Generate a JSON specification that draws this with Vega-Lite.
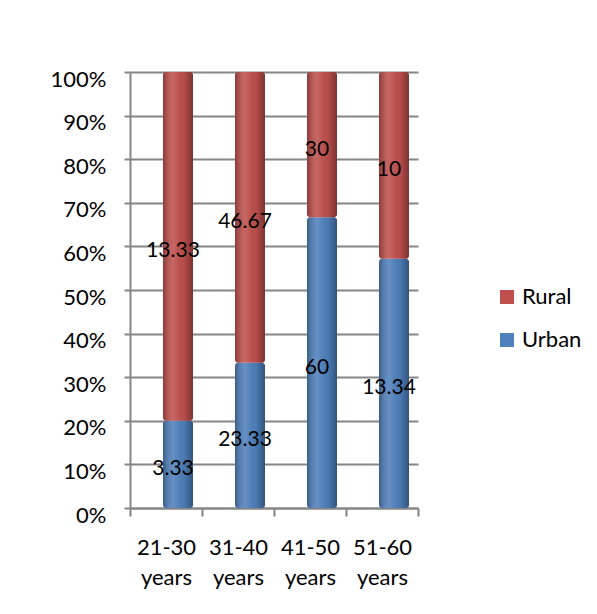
{
  "$schema": "https://vega.github.io/schema/vega-lite/v6.json",
  "width": 310,
  "height": 436,
  "autosize": {"type": "none"},
  "padding": {"left": 130, "top": 72, "right": 157, "bottom": 106},
  "background": "white",
  "config": {
    "view": {"stroke": null},
    "font": "Lato",
    "text": {"font": "Lato"}
  },
  "data": {
    "values": [
      {"age": "21-30 years", "area": "Urban", "value": 3.33},
      {"age": "21-30 years", "area": "Rural", "value": 13.33},
      {"age": "31-40 years", "area": "Urban", "value": 23.33},
      {"age": "31-40 years", "area": "Rural", "value": 46.67},
      {"age": "41-50 years", "area": "Urban", "value": 60},
      {"age": "41-50 years", "area": "Rural", "value": 30},
      {"age": "51-60 years", "area": "Urban", "value": 13.34},
      {"age": "51-60 years", "area": "Rural", "value": 10}
    ]
  },
  "transform": [
    {
      "stack": "value",
      "groupby": ["age"],
      "sort": [{"field": "area", "order": "descending"}],
      "offset": "normalize",
      "as": ["y0", "y1"]
    },
    {"calculate": "(datum.y0 + datum.y1) / 2", "as": "ymid"}
  ],
  "encoding": {
    "x": {
      "field": "age",
      "type": "nominal",
      "title": null,
      "scale": {"range": [0, 288], "paddingInner": 0, "paddingOuter": 0},
      "axis": {
        "labelAngle": 0,
        "labelExpr": "split(datum.label, ' ')",
        "labelFontSize": 22,
        "labelLineHeight": 30,
        "labelColor": "black",
        "labelPadding": 21,
        "domainColor": "#868686",
        "domainWidth": 2,
        "tickColor": "#868686",
        "tickWidth": 2,
        "tickSize": 8,
        "tickBand": "extent"
      }
    }
  },
  "layer": [
    {
      "mark": {"type": "bar", "width": 30, "xOffset": 12, "cornerRadius": 3},
      "encoding": {
        "y": {
          "field": "y0",
          "type": "quantitative",
          "title": null,
          "scale": {"domain": [0, 1]},
          "axis": {
            "format": "%",
            "values": [0, 0.1, 0.2, 0.3, 0.4, 0.5, 0.6, 0.7, 0.8, 0.9, 1],
            "labelFontSize": 22,
            "labelColor": "black",
            "labelPadding": 18,
            "labelOffset": 7,
            "grid": true,
            "gridColor": "#868686",
            "gridWidth": 2,
            "domainColor": "#868686",
            "domainWidth": 2,
            "tickColor": "#868686",
            "tickWidth": 2,
            "tickSize": 6
          }
        },
        "y2": {"field": "y1"},
        "color": {
          "field": "area",
          "type": "nominal",
          "scale": {"domain": ["Rural", "Urban"], "range": ["#C0504D", "#4F81BD"]},
          "legend": {
            "title": null,
            "orient": "none",
            "legendX": 366,
            "legendY": 214,
            "symbolType": "square",
            "symbolSize": 196,
            "symbolStrokeWidth": 0,
            "labelFontSize": 22,
            "labelColor": "black",
            "labelOffset": 4,
            "rowPadding": 21
          }
        }
      }
    },
    {
      "mark": {
        "type": "bar",
        "width": 30,
        "xOffset": 12,
        "cornerRadius": 3,
        "color": {
          "gradient": "linear",
          "x1": 0, "x2": 1, "y1": 0, "y2": 0,
          "stops": [
            {"offset": 0, "color": "rgba(0,0,0,0.28)"},
            {"offset": 0.35, "color": "rgba(255,255,255,0.12)"},
            {"offset": 0.7, "color": "rgba(0,0,0,0.05)"},
            {"offset": 1, "color": "rgba(0,0,0,0.35)"}
          ]
        }
      },
      "encoding": {
        "y": {"field": "y0", "type": "quantitative"},
        "y2": {"field": "y1"}
      }
    },
    {
      "mark": {"type": "text", "xOffset": 7, "dy": 5, "fontSize": 21, "color": "black", "font": "Lato"},
      "encoding": {
        "y": {"field": "ymid", "type": "quantitative"},
        "text": {"field": "value", "type": "quantitative"}
      }
    }
  ]
}
